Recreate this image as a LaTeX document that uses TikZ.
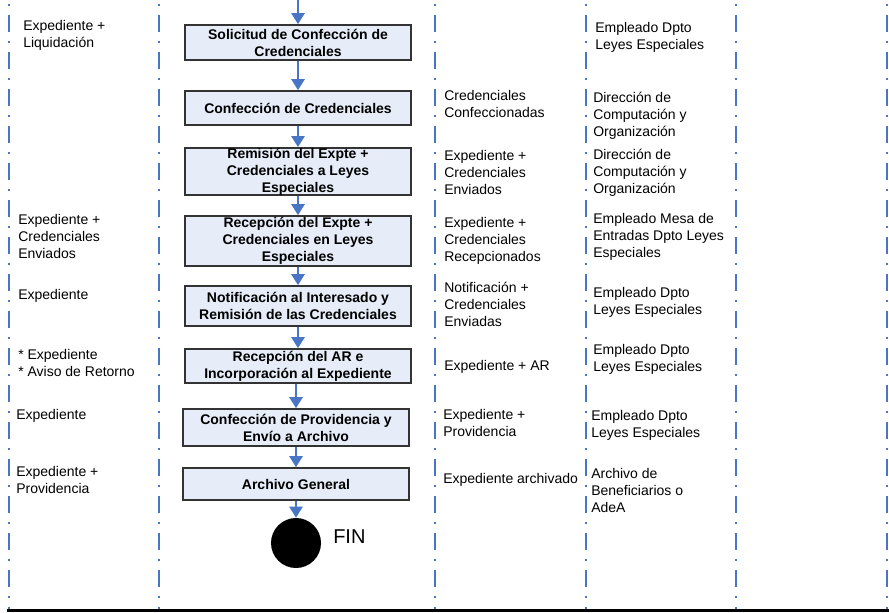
\documentclass[tikz,border=0pt]{standalone}
\usepackage{fontspec}
\setmainfont{Liberation Sans}
\usetikzlibrary{arrows.meta}

\definecolor{lanecol}{RGB}{72,118,196}
\definecolor{boxfill}{RGB}{230,237,248}
\newcommand{\pxu}{0.75pt}

\begin{document}
\begin{tikzpicture}[x=0.75pt,y=-0.75pt,
	lane/.style={lanecol,line width=2.6*\pxu,dash pattern=on 17*\pxu off 9*\pxu on 2*\pxu off 9*\pxu,dash phase=22*\pxu},
	proc/.style={draw=black!80,fill=boxfill,line width=1.6*\pxu,minimum width=226*\pxu,inner sep=0pt,align=center,font=\fontsize{10.5}{12.75}\selectfont\bfseries},
	info/.style={anchor=north west,inner sep=0pt,align=left,font=\fontsize{10.5}{12.75}\selectfont},
	flow/.style={lanecol,line width=2.4*\pxu,-{Triangle[width=13*\pxu,length=11*\pxu]}}]
				
				\useasboundingbox (0,0) rectangle (889,612);
				
				% swimlanes
				\draw[lane] (9,0) -- (9,609);
				\draw[lane] (159,0) -- (159,609);
				\draw[lane] (435,0) -- (435,609);
				\draw[lane] (586,0) -- (586,609);
				\draw[lane] (736,0) -- (736,609);
				\draw[lane] (887,0) -- (887,609);
				\draw[line width=2.5*\pxu] (7,610.5) -- (889,610.5);
				
				% process column
				\coordinate (start) at (298,0);
				\node[proc,minimum height=35*\pxu] (B1) at (298,42.5) {Solicitud de Confección de\\Credenciales};
				\node[proc,minimum height=34*\pxu] (B2) at (298,108) {Confección de Credenciales};
				\node[proc,minimum height=47*\pxu] (B3) at (298,171.5) {Remisión del Expte +\\Credenciales a Leyes\\Especiales};
				\node[proc,minimum height=50*\pxu] (B4) at (298,241) {Recepción del Expte +\\Credenciales en Leyes\\Especiales};
				\node[proc,minimum height=40*\pxu] (B5) at (298,306) {Notificación al Interesado y\\Remisión de las Credenciales};
				\node[proc,minimum height=34*\pxu] (B6) at (298,366) {Recepción del AR e\\Incorporación al Expediente};
				\node[proc,minimum height=37*\pxu] (B7) at (296,427.5) {Confección de Providencia y\\Envío a Archivo};
				\node[proc,minimum height=32*\pxu] (B8) at (296,484) {Archivo General};
				\node[circle,fill=black,minimum size=50*\pxu,inner sep=0pt] (fin) at (296,543) {};
				\node[anchor=west,inner sep=0pt,font=\fontsize{15}{18}\selectfont] (finlabel) at (333,537) {FIN};
				
				\draw[flow] (start) -- (B1);
				\draw[flow] (B1) -- (B2);
				\draw[flow] (B2) -- (B3);
				\draw[flow] (B3) -- (B4);
				\draw[flow] (B4) -- (B5);
				\draw[flow] (B5) -- (B6);
				\draw[flow] (B6.south -| B7) -- (B7);
				\draw[flow] (B7) -- (B8);
				\draw[flow] (B8) -- (fin);
				
				% inputs
				\node[info] (L1) at (23,20.5) {Expediente +\\Liquidación};
				\node[info] (L4) at (18,214.5) {Expediente +\\Credenciales\\Enviados};
				\node[info] (L5) at (18,289.5) {Expediente};
				\node[info] (L6) at (18,349.5) {* Expediente\\* Aviso de Retorno};
				\node[info] (L7) at (16,409.5) {Expediente};
				\node[info] (L8) at (16,466.5) {Expediente +\\Providencia};
				
				% outputs
				\node[info] (D2) at (444,90.5) {Credenciales\\Confeccionadas};
				\node[info] (D3) at (444,150.5) {Expediente +\\Credenciales\\Enviados};
				\node[info] (D4) at (444,217.5) {Expediente +\\Credenciales\\Recepcionados};
				\node[info] (D5) at (444,281.5) {Notificación +\\Credenciales\\Enviadas};
				\node[info] (D6) at (444,360.5) {Expediente + AR};
				\node[info] (D7) at (443,409.5) {Expediente +\\Providencia};
				\node[info] (D8) at (443,473.5) {Expediente archivado};
				
				% responsables
				\node[info] (R1) at (595,22.5) {Empleado Dpto\\Leyes Especiales};
				\node[info] (R2) at (593,91.5) {Dirección de\\Computación y\\Organización};
				\node[info] (R3) at (593,148.5) {Dirección de\\Computación y\\Organización};
				\node[info] (R4) at (593,213.5) {Empleado Mesa de\\Entradas Dpto Leyes\\Especiales};
				\node[info] (R5) at (593,287.5) {Empleado Dpto\\Leyes Especiales};
				\node[info] (R6) at (593,344.5) {Empleado Dpto\\Leyes Especiales};
				\node[info] (R7) at (591,410.5) {Empleado Dpto\\Leyes Especiales};
				\node[info] (R8) at (591,468.5) {Archivo de\\Beneficiarios o\\AdeA};
				
			\end{tikzpicture}
\end{document}
